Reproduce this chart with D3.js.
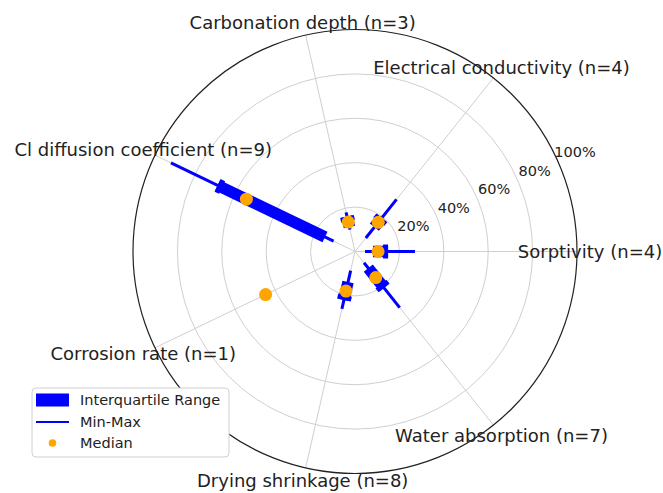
<!DOCTYPE html>
<html>
<head>
<meta charset="utf-8">
<script src="https://cdn.jsdelivr.net/npm/d3@7"></script>
<style>
  body { margin: 0; background: #fff; }
  text { font-family: "DejaVu Sans", sans-serif; fill: #222; }
</style>
</head>
<body>
<div id="container"></div>
<script>

// Données (en % du maximum)
const categories = ["Sorptivity", "Electrical conductivity", "Carbonation depth",
  "Cl diffusion coefficient", "Corrosion rate", "Drying shrinkage", "Water absorption"];
const counts     = [4, 4, 3, 9, 1, 8, 7];
const minVals    = [4.5, 7.8, 10.1, 10.7, 44.7, 8.8, 6.5];
const q1Vals     = [8.1, 14.0, 11.3, 15.0, 44.7, 14.1, 9.6];
const medianVals = [10.4, 16.8, 13.6, 54.3, 44.7, 18.3, 15.0];
const q3Vals     = [14.9, 19.4, 16.2, 68.7, 44.7, 22.4, 21.0];
const maxVals    = [27.0, 30.0, 18.1, 92.0, 44.7, 26.5, 32.3];
const radialTicks = [20, 40, 60, 80, 100];

const width = 663, height = 493;
const cx = 355, cy = 251.5, R = 222;

const svg = d3.select("#container").append("svg")
  .attr("width", width)
  .attr("height", height);

svg.append("rect").attr("width", width).attr("height", height).attr("fill", "#fff");

// Échelles
const r = d3.scaleLinear().domain([0, 100]).range([0, R]);
const theta = d3.scaleLinear().domain([0, categories.length]).range([0, 2 * Math.PI]);

// angle en radians (sens trigo, 0 = est), rayon en pixels
const pt = (a, rad) => [cx + rad * Math.cos(a), cy - rad * Math.sin(a)];

const g = svg.append("g");

// Cercles de la grille
g.selectAll(".grid-circle")
  .data(radialTicks.filter(t => t < 100))
  .enter().append("circle")
  .attr("cx", cx).attr("cy", cy)
  .attr("r", d => r(d))
  .attr("fill", "none")
  .attr("stroke", "#cfcfcf")
  .attr("stroke-width", 1);

// Rayons
g.selectAll(".spoke")
  .data(categories)
  .enter().append("line")
  .attr("x1", cx).attr("y1", cy)
  .attr("x2", (d, i) => pt(theta(i), R)[0])
  .attr("y2", (d, i) => pt(theta(i), R)[1])
  .attr("stroke", "#cfcfcf")
  .attr("stroke-width", 1);

// Bord extérieur
g.append("circle")
  .attr("cx", cx).attr("cy", cy).attr("r", r(100))
  .attr("fill", "none")
  .attr("stroke", "#222")
  .attr("stroke-width", 1.2);

// Étiquettes radiales
const labelAngle = 24.5 * Math.PI / 180;
g.selectAll(".rlabel")
  .data(radialTicks)
  .enter().append("text")
  .attr("x", d => pt(labelAngle, r(d))[0] + 18)
  .attr("y", d => pt(labelAngle, r(d))[1] - 7)
  .attr("text-anchor", "middle")
  .attr("dominant-baseline", "central")
  .style("font-size", "14.5px")
  .text(d => d + "%");

// Étiquettes des catégories
g.selectAll(".clabel")
  .data(categories)
  .enter().append("text")
  .attr("x", (d, i) => pt(theta(i), R + 13)[0])
  .attr("y", (d, i) => pt(theta(i), R + 13)[1])
  .attr("text-anchor", "middle")
  .attr("dominant-baseline", "central")
  .style("font-size", "18px")
  .text((d, i) => `${d} (n=${counts[i]})`);

const idx = d3.range(categories.length);
const blue = "#0000ff", orange = "#ffa500";

// Min-Max
g.selectAll(".minmax")
  .data(idx.filter(i => maxVals[i] > minVals[i]))
  .enter().append("line")
  .attr("x1", i => pt(theta(i), r(minVals[i]))[0])
  .attr("y1", i => pt(theta(i), r(minVals[i]))[1])
  .attr("x2", i => pt(theta(i), r(maxVals[i]))[0])
  .attr("y2", i => pt(theta(i), r(maxVals[i]))[1])
  .attr("stroke", blue)
  .attr("stroke-width", 3);

// Interquartile
const iqr = idx.filter(i => q3Vals[i] > q1Vals[i]);
g.selectAll(".iqr")
  .data(iqr)
  .enter().append("line")
  .attr("x1", i => pt(theta(i), r(q1Vals[i]))[0])
  .attr("y1", i => pt(theta(i), r(q1Vals[i]))[1])
  .attr("x2", i => pt(theta(i), r(q3Vals[i]))[0])
  .attr("y2", i => pt(theta(i), r(q3Vals[i]))[1])
  .attr("stroke", blue)
  .attr("stroke-width", 11.5);

// bout extérieur un peu plus large
g.selectAll(".iqr-end")
  .data(iqr)
  .enter().append("line")
  .attr("x1", i => pt(theta(i), r(q3Vals[i]) - 5)[0])
  .attr("y1", i => pt(theta(i), r(q3Vals[i]) - 5)[1])
  .attr("x2", i => pt(theta(i), r(q3Vals[i]))[0])
  .attr("y2", i => pt(theta(i), r(q3Vals[i]))[1])
  .attr("stroke", blue)
  .attr("stroke-width", 14);

// Médianes
g.selectAll(".median")
  .data(idx)
  .enter().append("circle")
  .attr("cx", i => pt(theta(i), r(medianVals[i]))[0])
  .attr("cy", i => pt(theta(i), r(medianVals[i]))[1])
  .attr("r", 6.5)
  .attr("fill", orange);

// Légende
const leg = svg.append("g").attr("transform", "translate(32,388)");
leg.append("rect")
  .attr("width", 197).attr("height", 69)
  .attr("rx", 4)
  .attr("fill", "#fff")
  .attr("stroke", "#d0d0d0");

leg.append("rect")
  .attr("x", 4).attr("y", 5.5)
  .attr("width", 33).attr("height", 13)
  .attr("fill", blue);
leg.append("line")
  .attr("x1", 4).attr("x2", 37)
  .attr("y1", 34).attr("y2", 34)
  .attr("stroke", blue).attr("stroke-width", 2);
leg.append("circle")
  .attr("cx", 20.5).attr("cy", 55)
  .attr("r", 3.8)
  .attr("fill", orange);

leg.selectAll(".ltext")
  .data(["Interquartile Range", "Min-Max", "Median"])
  .enter().append("text")
  .attr("x", 48)
  .attr("y", (d, i) => 12 + i * 21.5)
  .attr("dominant-baseline", "central")
  .style("font-size", "14.5px")
  .text(d => d);

</script>
</body>
</html>
